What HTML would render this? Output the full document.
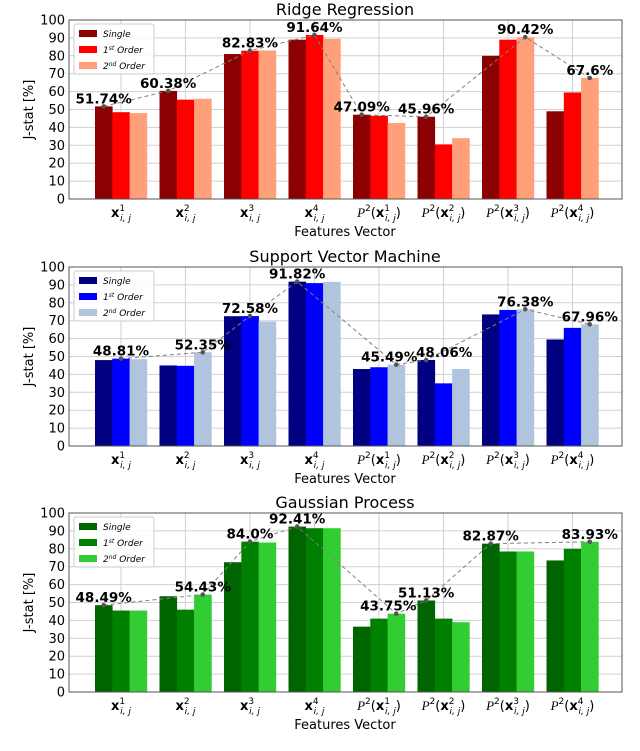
<!DOCTYPE html>
<html><head><meta charset="utf-8"><style>
html,body{margin:0;padding:0;background:#fff;}
svg{display:block;font-family:"DejaVu Sans","Liberation Sans",sans-serif;}
</style></head><body>
<svg id="fig" width="640" height="751" viewBox="0 0 640 751" xmlns="http://www.w3.org/2000/svg"></svg>
<script>
const categories = ["1","2","3","4","P1","P2","P3","P4"];
const seriesNames = ["Single","1st Order","2nd Order"];
const yTicks = [0,10,20,30,40,50,60,70,80,90,100];
const ridgeSingle = [51.74,60.38,81,89,47.09,45.96,80,49];
const ridgeFirst  = [48.5,55.5,82.83,91.64,46.5,30.5,89,59.5];
const ridgeSecond = [48,56,83,89.5,42.5,34,90.42,67.6];
const ridgeBest   = [0,0,1,1,0,0,2,2];
const ridgeLabels = ["51.74%","60.38%","82.83%","91.64%","47.09%","45.96%","90.42%","67.6%"];
const svmSingle = [48,45,72.5,91.82,43,48.06,73.5,59.5];
const svmFirst  = [48.81,44.8,72.58,91,44,35,76,66];
const svmSecond = [48.5,52.35,69.5,91.7,45.49,43,76.38,67.96];
const svmBest   = [1,2,1,0,2,0,2,2];
const svmLabels = ["48.81%","52.35%","72.58%","91.82%","45.49%","48.06%","76.38%","67.96%"];
const gpSingle = [48.49,53.5,72.5,92.41,36.5,51.13,82.87,73.5];
const gpFirst  = [45.5,46,84.0,91.5,41,41,78.5,80];
const gpSecond = [45.5,54.43,83.5,91.5,43.75,39,78.5,83.93];
const gpBest   = [0,2,1,0,2,0,0,2];
const gpLabels = ["48.49%","54.43%","84.0%","92.41%","43.75%","51.13%","82.87%","83.93%"];

const NS="http://www.w3.org/2000/svg";
const svg=document.getElementById('fig');
function mk(tag,attrs,parent){const e=document.createElementNS(NS,tag);for(const k in attrs)e.setAttribute(k,attrs[k]);(parent||svg).appendChild(e);return e;}

const panels=[
 {key:"ridge",title:"Ridge Regression",top:20,series:[ridgeSingle,ridgeFirst,ridgeSecond],best:ridgeBest,labels:ridgeLabels,ldx:[0,0,0,0,0,0,0,0],colors:["#8b0000","#ff0000","#ffa07a"]},
 {key:"svm",title:"Support Vector Machine",top:267,series:[svmSingle,svmFirst,svmSecond],best:svmBest,labels:svmLabels,ldx:[0,0,0,0,-7,18,0,0],colors:["#000080","#0000ff","#b0c4de"]},
 {key:"gp",title:"Gaussian Process",top:513,series:[gpSingle,gpFirst,gpSecond],best:gpBest,labels:gpLabels,ldx:[0,0,0,0,-8,0,0,0],colors:["#006400","#008000","#32cd32"]}
];
const X0=69,X1=622,H=179,BW=17.3,GS=64.5,G0=95;

panels.forEach(p=>{
 const g=mk('g',{});
 
 
 const y=v=>p.top+H-v/100*H;
 const gx=i=>G0+GS*i;
 yTicks.forEach(t=>{
  const l=mk('line',{x1:X0,x2:X1,y1:y(t),y2:y(t),stroke:'#d0d0d0','stroke-width':1},g);
  
  
  const tx=mk('text',{x:X0-4,y:y(t)+4.5,'text-anchor':'end','font-size':13,fill:'#000'},g);
  tx.textContent=t;
  
  
 });
 categories.forEach((c,i)=>{
  const cx=gx(i)+BW*1.5;
  const l=mk('line',{x1:cx,x2:cx,y1:p.top,y2:p.top+H,stroke:'#d0d0d0','stroke-width':1},g);
  
  
 });
 p.series.forEach((s,si)=>{
  s.forEach((v,i)=>{
   const r=mk('rect',{x:gx(i)+si*BW,y:y(v),width:BW+0.3,height:p.top+H-y(v),fill:p.colors[si]},g);
   
   
  });
 });
 const pts=p.best.map((b,i)=>[gx(i)+b*BW+BW/2,y(p.series[b][i])]);
 const pl=mk('polyline',{points:pts.map(q=>q.join(',')).join(' '),fill:'none',stroke:'#808080','stroke-width':1,'stroke-dasharray':'4,3'},g);
 
 
 pts.forEach((q,i)=>{
  const d=mk('circle',{cx:q[0],cy:q[1],r:2.3,fill:'#555'},g);
  
  
  const t=mk('text',{x:q[0]+p.ldx[i],y:q[1]-3,'text-anchor':'middle','font-size':13.5,'font-weight':'bold',fill:'#000'},g);
  t.textContent=p.labels[i];
  
  
 });
 const fr=mk('rect',{x:X0,y:p.top,width:X1-X0,height:H,fill:'none',stroke:'#555','stroke-width':1},g);
 
 
 const tt=mk('text',{x:345,y:p.top-5,'text-anchor':'middle','font-size':16,fill:'#000'},g);
 tt.textContent=p.title;
 
 
 const yl=mk('text',{x:0,y:0,'text-anchor':'middle','font-size':13,fill:'#000',transform:`translate(33,${p.top+H/2}) rotate(-90)`},g);
 yl.textContent='J-stat [%]';
 
 
 categories.forEach((c,i)=>{
  const cx=gx(i)+BW*1.5;
  const t=mk('text',{x:cx,y:p.top+H+18,'text-anchor':'middle','font-size':13,fill:'#000'},g);
  
  
  const n=c.replace('P','');
  let html='';
  if(c[0]==='P') html+='<tspan font-family="Liberation Serif,serif" font-style="italic">P</tspan><tspan font-size="9" dy="-6">2</tspan><tspan dy="6">(</tspan>';
  html+='<tspan font-weight="bold">x</tspan><tspan font-size="9" dy="-6">'+n+'</tspan><tspan font-size="9" font-style="italic" dx="-5" dy="10">i, j</tspan>';
  if(c[0]==='P') html+='<tspan dy="-4">)</tspan>';
  t.innerHTML=html;
 });
 const xt=mk('text',{x:345,y:p.top+H+37,'text-anchor':'middle','font-size':13,fill:'#000'},g);
 xt.textContent='Features Vector';
 
 
 const lg=mk('g',{},g);
 
 
 mk('rect',{x:X0+5,y:p.top+4,width:80,height:50,fill:'#fff','fill-opacity':0.85,stroke:'#ccc',rx:2},lg);
 seriesNames.forEach((nm,si)=>{
  const ly=p.top+10+si*16;
  const sw=mk('rect',{x:X0+10,y:ly,width:18,height:7,fill:p.colors[si]},lg);
  
  
  const t=mk('text',{x:X0+34,y:ly+7,'font-size':9,'font-style':'italic',fill:'#000'},lg);
  
  
  if(si===0) t.textContent=nm;
  else t.innerHTML=(si===1?'1<tspan font-size="6" dy="-3">st</tspan>':'2<tspan font-size="6" dy="-3">nd</tspan>')+'<tspan dy="3"> Order</tspan>';
 });
});
</script>
</body></html>
